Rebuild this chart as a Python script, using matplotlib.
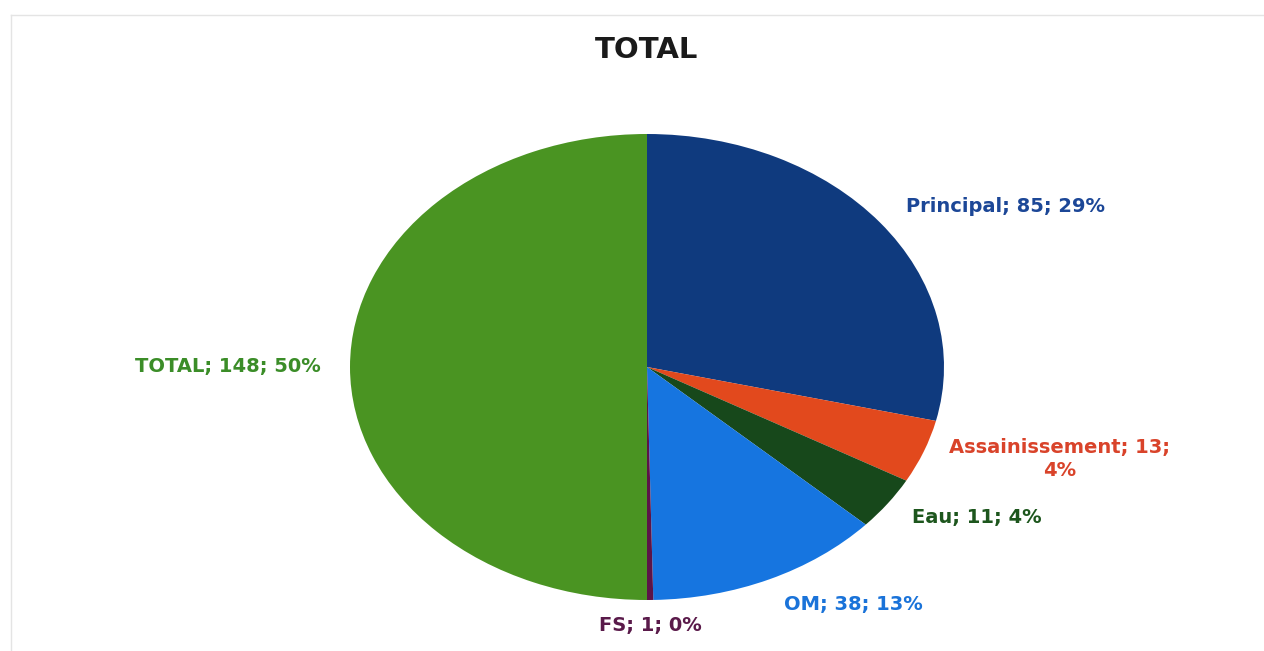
import numpy as np
import matplotlib.pyplot as plt

plt.rcParams['font.family'] = ['DejaVu Sans']

# slices, clockwise from 12 o'clock
labels = ['Principal', 'Assainissement', 'Eau', 'OM', 'FS', 'TOTAL']
values = [85, 13, 11, 38, 1, 148]
colors = ['#0f3a7e', '#e2491d', '#17481b', '#1675e0', '#5c1448', '#4a9422']
text_colors = ['#1c4797', '#d9432a', '#1d561d', '#1a73d9', '#5a1a4a', '#3b8d28']

# label placement (radius, alignment)
label_r = [1.11, 1.09, 1.10, 1.12, 1.11, 1.10]
label_ha = ['left', 'left', 'left', 'left', 'center', 'right']

fig = plt.figure(figsize=(12.64, 6.51), dpi=100)
W, H = 1264, 651
cx, cy, rx, ry = 647, 367, 297, 233
ax = fig.add_axes([(cx - rx) / W, (H - cy - ry) / H, 2 * rx / W, 2 * ry / H])

wedges, _ = ax.pie(values, colors=colors, startangle=90, counterclock=False,
                   wedgeprops=dict(linewidth=0))
ax.set_aspect('auto')
ax.set_xlim(-1, 1)
ax.set_ylim(-1, 1)
ax.axis('off')

total = sum(values)
for w, lab, v, c, r, ha in zip(wedges, labels, values, text_colors, label_r, label_ha):
    mid = np.deg2rad((w.theta1 + w.theta2) / 2)
    pct = round(100 * v / total)
    txt = f'{lab}; {v}; {pct}%'
    if lab == 'Assainissement':
        txt = f'{lab}; {v};\n{pct}%'
    ax.text(r * np.cos(mid), r * np.sin(mid), txt, ha=ha, va='center',
            multialignment='center', color=c, fontsize=14, fontweight='bold',
            linespacing=1.25)

fig.text(cx / W, 1 - 50 / H, 'TOTAL', ha='center', va='center',
         fontsize=21, fontweight='bold', color='#1a1a1a')

# faint scan border
fig.add_artist(plt.Line2D([11 / W, 11 / W], [0, 1 - 15 / H], transform=fig.transFigure,
                          color='#e4e4e4', lw=1))
fig.add_artist(plt.Line2D([11 / W, 1], [1 - 15 / H, 1 - 15 / H], transform=fig.transFigure,
                          color='#e4e4e4', lw=1))

fig.savefig('out.png', dpi=100, facecolor='white')
